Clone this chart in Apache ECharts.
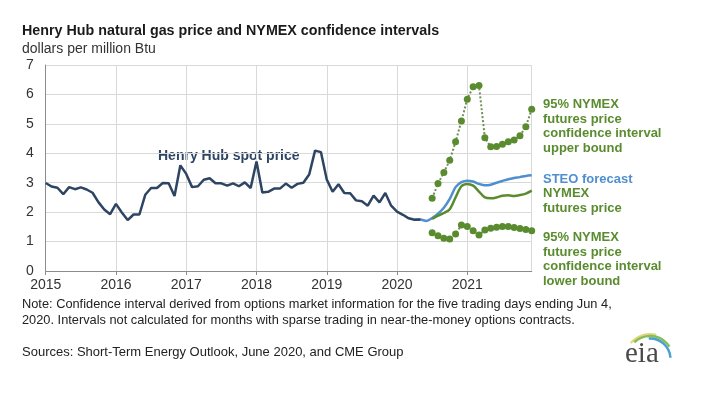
<!DOCTYPE html>
<html>
<head>
<meta charset="utf-8">
<script src="https://cdn.jsdelivr.net/npm/echarts@6/dist/echarts.min.js"></script>
<style>
  html, body { margin: 0; padding: 0; background: #fff; }
  #main { width: 705px; height: 397px; }
</style>
</head>
<body>
<div id="main"></div>
<script>
// years on the axis, one category per month
var years = ['2015', '2016', '2017', '2018', '2019', '2020', '2021'];
var yTicks = [0, 1, 2, 3, 4, 5, 6, 7];

// Henry Hub spot price, Jan 2015 - May 2020
var spot = [
  2.99, 2.87, 2.83, 2.61, 2.85, 2.78, 2.84, 2.77, 2.66, 2.34, 2.09, 1.93,
  2.28, 1.99, 1.73, 1.92, 1.92, 2.59, 2.82, 2.82, 2.99, 2.98, 2.55, 3.59,
  3.30, 2.85, 2.88, 3.10, 3.15, 2.98, 2.98, 2.90, 2.98, 2.88, 3.01, 2.82,
  3.72, 2.67, 2.69, 2.80, 2.80, 2.97, 2.83, 2.96, 3.00, 3.28, 4.09, 4.04,
  3.11, 2.69, 2.95, 2.65, 2.64, 2.40, 2.37, 2.22, 2.56, 2.33, 2.65, 2.22,
  2.02, 1.91, 1.79, 1.74, 1.75
];
// STEO forecast, Apr 2020 - Dec 2021
var steo = [
  1.74, 1.75, 1.70, 1.80, 1.95, 2.15, 2.45, 2.85, 3.02,
  3.07, 3.04, 2.96, 2.91, 2.93, 3.00, 3.06, 3.12, 3.16, 3.19, 3.23, 3.25
];
// NYMEX futures price, Jul 2020 - Dec 2021
var nymex = [
  1.77, 1.88, 1.97, 2.10, 2.50, 2.88,
  2.96, 2.90, 2.70, 2.50, 2.47, 2.50, 2.56, 2.57, 2.55, 2.58, 2.63, 2.73
];
// 95% confidence interval bounds, Jul 2020 - Dec 2021
var upper = [
  2.47, 2.97, 3.35, 3.76, 4.39, 5.10,
  5.84, 6.26, 6.30, 4.53, 4.22, 4.23, 4.31, 4.39, 4.45, 4.60, 4.90, 5.50
];
var lower = [
  1.30, 1.20, 1.11, 1.09, 1.26, 1.56,
  1.51, 1.37, 1.22, 1.39, 1.45, 1.49, 1.51, 1.51, 1.48, 1.44, 1.41, 1.37
];

var months = [];
years.forEach(function (y) {
  for (var m = 1; m <= 12; m++) {
    months.push(y + '-' + (m < 10 ? '0' + m : m));
  }
});

// put a series on the month axis starting at a given month
function place(vals, start) {
  var out = [];
  var idx = months.indexOf(start);
  for (var i = 0; i < months.length; i++) {
    var k = i - idx;
    out.push(k >= 0 && k < vals.length ? vals[k] : null);
  }
  return out;
}

var FONT = "'Liberation Sans', Arial, sans-serif";
var NAVY = '#2d4563';
var BLUE = '#4f8fcf';
var GREEN = '#5a8c2f';

var myChart = echarts.init(document.getElementById('main'));

function label(text, x, y, color, bold, size) {
  return {
    type: 'text', left: x, top: y,
    style: {
      text: text, fill: color, font: (bold ? 'bold ' : '') + (size || 13) + 'px ' + FONT,
      lineHeight: 14.7
    }
  };
}

function bound(name, vals) {
  return {
    name: name, type: 'line', data: place(vals, '2020-07'),
    symbol: 'circle', symbolSize: 7, showSymbol: true, showAllSymbol: true,
    itemStyle: { color: GREEN },
    lineStyle: { color: '#6f8f58', width: 2, type: 'dotted' }, z: 5
  };
}

option = {
  animation: false,
  backgroundColor: '#fff',
  textStyle: { fontFamily: FONT },
  grid: { left: 45.7, right: 173.3, top: 65, bottom: 126, containLabel: false },
  xAxis: {
    type: 'category',
    data: months,
    boundaryGap: false,
    axisLine: { lineStyle: { color: '#8c8c8c', width: 1 } },
    axisTick: {
      interval: function (i) { return i % 12 === 0; },
      length: 4,
      lineStyle: { color: '#8c8c8c' }
    },
    axisLabel: {
      interval: function (i) { return i % 12 === 0; },
      formatter: function (v) { return v.slice(0, 4); },
      color: '#333', fontSize: 14, margin: 7, fontFamily: FONT
    },
    splitLine: {
      show: true,
      interval: function (i) { return i % 12 === 0 || i === months.length - 1; },
      lineStyle: { color: '#d9d9d9', width: 1 }
    }
  },
  yAxis: {
    type: 'value',
    min: yTicks[0], max: yTicks[yTicks.length - 1], interval: 1,
    axisLine: { show: true, lineStyle: { color: '#8c8c8c' } },
    axisTick: { show: false },
    axisLabel: { color: '#333', fontSize: 14, margin: 12, fontFamily: FONT },
    splitLine: { lineStyle: { color: '#d9d9d9', width: 1 } }
  },
  series: [
    {
      name: 'STEO forecast', type: 'line', data: place(steo, '2020-04'),
      symbol: 'none', smooth: 0.3, lineStyle: { color: BLUE, width: 2.5 }, z: 2
    },
    {
      name: 'NYMEX futures price', type: 'line', data: place(nymex, '2020-07'),
      symbol: 'none', smooth: 0.3, lineStyle: { color: GREEN, width: 2.5 }, z: 3
    },
    {
      name: 'Henry Hub spot price', type: 'line', data: place(spot, '2015-01'),
      symbol: 'none', lineStyle: { color: NAVY, width: 2.5 }, z: 4
    },
    bound('upper bound', upper),
    bound('lower bound', lower)
  ],
  graphic: [
    label('Henry Hub natural gas price and NYMEX confidence intervals', 22, 24, '#1a1a1a', true, 14.3),
    label('dollars per million Btu', 22, 42, '#333', false, 14),
    label('Henry Hub spot price', 158, 149, NAVY, true, 14),
    label('95% NYMEX\nfutures price\nconfidence interval\nupper bound', 543, 97, GREEN, true, 13),
    label('STEO forecast', 543, 172, BLUE, true, 13),
    label('NYMEX\nfutures price', 543, 186, GREEN, true, 13),
    label('95% NYMEX\nfutures price\nconfidence interval\nlower bound', 543, 230, GREEN, true, 13),
    {
      type: 'text', left: 22, top: 296,
      style: {
        text: 'Note: Confidence interval derived from options market information for the five trading days ending Jun 4,\n2020. Intervals not calculated for months with sparse trading in near-the-money options contracts.',
        fill: '#222', font: '12.8px ' + FONT, lineHeight: 16.5
      }
    },
    {
      type: 'text', left: 22, top: 346,
      style: { text: 'Sources: Short-Term Energy Outlook, June 2020, and CME Group', fill: '#222', font: '13px ' + FONT }
    },
    // eia logo
    {
      type: 'arc', shape: { cx: 650, cy: 359, r: 25, startAngle: -Math.PI * 0.78, endAngle: -Math.PI * 0.42 },
      style: { stroke: '#e3d77a', lineWidth: 2, fill: null }
    },
    {
      type: 'arc', shape: { cx: 650, cy: 359, r: 23, startAngle: -Math.PI * 0.74, endAngle: -Math.PI * 0.18 },
      style: { stroke: '#86bd55', lineWidth: 2.5, fill: null }
    },
    {
      type: 'arc', shape: { cx: 650, cy: 359, r: 20.5, startAngle: -Math.PI * 0.52, endAngle: -Math.PI * 0.02 },
      style: { stroke: '#4a9fd4', lineWidth: 2.5, fill: null }
    },
    {
      type: 'text', left: 625, top: 340,
      style: { text: 'eia', fill: '#4a4a4a', font: '29px "Liberation Serif", "DejaVu Serif", serif' }
    }
  ]
};
myChart.setOption(option);
</script>
</body>
</html>
